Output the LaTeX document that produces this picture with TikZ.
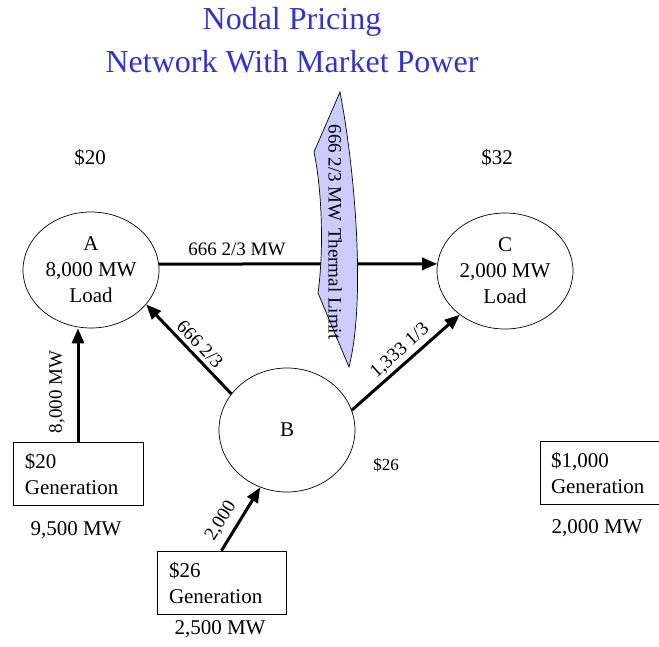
\documentclass[tikz,border=0pt]{standalone}
\usepackage{fontspec}
\setmainfont{Liberation Serif}
\usetikzlibrary{positioning, shapes.geometric, arrows.meta}
\definecolor{titleblue}{RGB}{51,51,204}
\definecolor{limitfill}{RGB}{204,204,255}
\tikzset{
  title/.style={text=titleblue, inner sep=0pt, font=\fontsize{32bp}{36bp}\selectfont},
  bus/.style={draw, ellipse, line width=0.7bp, inner sep=0pt, align=center,
    minimum width=136bp, font=\fontsize{21bp}{26bp}\selectfont},
  gen/.style={draw, rectangle, line width=0.7bp, inner ysep=0pt, align=left,
    minimum height=63bp, font=\fontsize{21bp}{26bp}\selectfont},
  big/.style={inner sep=0pt, font=\fontsize{21bp}{24bp}\selectfont},
  lbl/.style={inner sep=0pt, font=\fontsize{19bp}{20bp}\selectfont},
  flow/.style={line width=3bp, -{Triangle[length=15bp,width=12bp]}},
}
\begin{document}
\begin{tikzpicture}[x=1bp, y=-1bp]
    \useasboundingbox (0,0) rectangle (659,647);
    \clip (0,0) rectangle (659,647);

    \node[title] (t1) at (292,22) {Nodal Pricing};
    \node[title] (t2) at (292,62) {Network With Market Power};

    \node[bus, minimum height=116bp] (A) at (91,270) {A\\8,000 MW\\Load};
    \node[bus, minimum height=116bp] (C) at (505,271) {C\\2,000 MW\\Load};
    \node[bus, minimum height=124bp] (B) at (287,430) {B};

    \node[big] (pA) at (90,158) {\$20};
    \node[big] (pC) at (497,158) {\$32};
    \node[lbl, font=\fontsize{17bp}{20bp}\selectfont] (pB) at (386,465) {\$26};

    \node[gen, text width=106bp, inner xsep=12bp] (g20) at (78,473.5) {\$20\\Generation};
    \node[gen, text width=105bp, inner xsep=12bp] (g26) at (221.5,582.5) {\$26\\Generation};
    \node[gen, text width=103bp, inner xsep=11bp] (g1000) at (602.5,473) {\$1,000\\Generation};

    \node[big] (m20) at (76,530) {9,500 MW};
    \node[big] (m26) at (220,629) {2,500 MW};
    \node[big] (m1000) at (597,528) {2,000 MW};

    % flows
    \draw[flow] (A.5) -- (C.174);
    \draw[fill=limitfill, line width=0.7bp] (340,92) .. controls (355,170) and (366,300) .. (349,367)
        -- (318,293) .. controls (324,250) and (322,190) .. (314,152) -- cycle;
    \node[lbl, rotate=-90] (lim) at (335,232) {666 2/3 MW\,\,Thermal Limit};
    \node[lbl] (fAC) at (237,249) {666 2/3 MW};

    \draw[flow] (g20.north) -- (g20.north |- A.south);
    \node[lbl, rotate=90] (fGA) at (57,392) {8,000 MW};

    \draw[flow] (B.147) -- (A.-32);
    \node[lbl, rotate=-46] (fBA) at (200,344) {666 2/3};

    \draw[flow] (B.17) -- (C.224);
    \node[lbl, rotate=42] (fBC) at (400,351) {1,333 1/3};

    \draw[flow] (g26.north) -- (B.-115);
    \node[lbl, rotate=58] (fGB) at (221,521) {2,000};
\end{tikzpicture}
\end{document}
